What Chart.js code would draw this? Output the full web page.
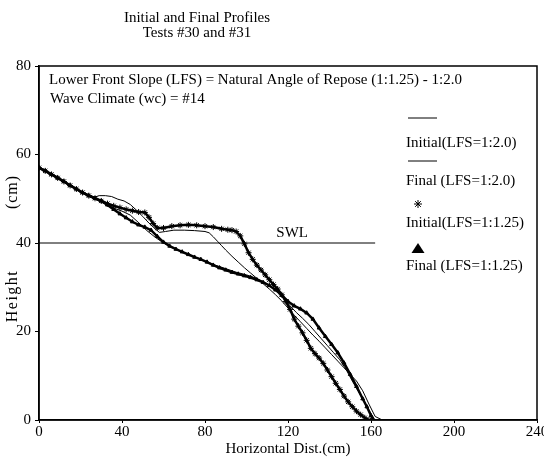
<!DOCTYPE html>
<html><head><meta charset="utf-8">
<script src="https://cdn.jsdelivr.net/npm/chart.js@4/dist/chart.umd.min.js"></script>
<style>html,body{margin:0;padding:0;background:#fff}</style>
</head><body>
<canvas id="c" width="544" height="461" style="width:544px;height:461px;display:block"></canvas>
<script>
// ---- text ----
const titleLines = ["Initial and Final Profiles", "Tests #30 and #31"];
const noteLines = ["Lower Front Slope (LFS) = Natural Angle of Repose (1:1.25) - 1:2.0", "Wave Climate (wc) = #14"];
const xAxisTitle = "Horizontal Dist.(cm)";
const yAxisTitleWords = ["Height", "(cm)"];
const seriesLabels = ["Initial(LFS=1:2.0)", "Final (LFS=1:2.0)", "Initial(LFS=1:1.25)", "Final (LFS=1:1.25)"];
const xTicks = [0, 40, 80, 120, 160, 200, 240];
const yTicks = [0, 20, 40, 60, 80];

// ---- Initial profile, LFS = 1:2.0 (thin line) ----
const init20X = [0,4,8,12,16,20,24,27,29,32,35,38,41,44,47,50,53,56,58,61,65,70,75,80,82,84,86,88,90,93,96,99,102,105,108,111,114,117,120,123,126,129,132,135,138,141,144,147,150,153,156,159,162,165,167];
const init20Y = [57,56,55,53.9,52.8,51.7,50.8,50.4,50.7,50.7,50.5,49.9,49.5,48.7,47.4,46,44.5,43.2,42.4,42.6,42.9,42.9,42.8,42.6,42.3,41.4,40.4,39.4,38.4,37,35.7,34.4,33.2,32,30.8,29.6,28.3,26.9,25.3,23.7,22.2,20.7,19.2,17.8,16.3,14.8,13.3,11.8,10.3,8.8,6.6,3.6,0.8,0.1,0];

// ---- Final profile, LFS = 1:2.0 (thin line) ----
const final20X = [0,4,8,12,16,20,24,28,32,36,40,44,48,52,56,60,65,70,75,80,85,90,95,100,105,110,114,118,121,124,127,130,133,136,139,142,145,148,151,154,157,160,162];
const final20Y = [57,56,55,53.9,52.8,51.7,50.7,49.7,48.8,47.9,47.2,46.3,44.6,42.8,41.3,40,38.8,37.8,36.9,35.9,35,34.2,33.4,32.8,32,30.8,29.4,27.6,25.8,24.3,23,21.6,20,18.4,16.8,15.2,13.6,11.4,8.8,6.4,4,1.4,0];

// ---- Initial profile, LFS = 1:1.25 (asterisks) ----
const init125X = [0,3,6,9,12,15,18,21,24,27,30,33,36,39,42,45,48,51,53,55,57,60,64,68,72,76,80,84,88,91,93,95,97,99,101,103,105,107,109,111,113,115,117,119,121,123,125,127,129,131,133,135,137,139,141,143,145,147,149,151,153,155,157,159];
const init125Y = [57,56.3,55.5,54.7,53.9,53,52.2,51.4,50.7,50.1,49.5,48.9,48.4,48,47.6,47.3,47,46.9,45.8,44.4,43.4,43.4,43.8,44,44.1,44,43.8,43.6,43.2,43,42.9,42.6,41.6,39.8,37.8,36.3,35,33.9,32.8,31.7,30.6,29.6,28.3,26.8,25,22.8,21.2,19.7,18,16.2,15,14,12.8,11.3,9.8,8.3,6.9,5.4,4.1,3,2,1.2,0.5,0];

// ---- Final profile, LFS = 1:1.25 (triangles) ----
const final125X = [0,3,6,9,12,15,18,21,24,27,30,33,36,39,42,45,48,51,54,57,60,63,66,69,72,75,78,81,84,87,90,93,96,99,102,105,108,111,114,117,120,123,126,129,132,135,138,141,144,147,150,153,156,158,160,161];
const final125Y = [57,56.3,55.5,54.7,53.9,53,52.2,51.4,50.7,50.1,49.5,48.6,47.6,46.6,45.7,44.8,44.1,43.6,42.9,41.5,40.2,39.3,38.6,38,37.4,36.8,36.3,35.7,35,34.4,33.9,33.4,33,32.6,32.2,31.7,31.1,30.4,29.4,28.2,26.8,25.8,25.1,24.2,22.8,20.8,18.9,17.1,15.2,12.9,10.3,7.6,4.8,3,1,0];

// ---- Still water level ----
const swlX = [0, 162];
const swlY = [40, 40];
const swlLabel = "SWL";
const swlLabelX = 122;

const pts = (xs, ys) => xs.map((x, i) => ({x, y: ys[i]}));
const FONT = "'Liberation Serif', 'DejaVu Serif', serif";

const decorations = {
  id: 'decorations',
  afterDraw(chart) {
    const ctx = chart.ctx, a = chart.chartArea;
    const xs = chart.scales.x, ys = chart.scales.y;
    ctx.save();
    // frame
    ctx.strokeStyle = '#000'; ctx.lineWidth = 1.5;
    ctx.strokeRect(a.left, a.top, a.right - a.left, a.bottom - a.top);
    ctx.fillStyle = '#000';
    // title
    ctx.textAlign = 'center'; ctx.textBaseline = 'middle';
    ctx.font = "15px " + FONT;
    ctx.fillText(titleLines[0], 197, 18);
    ctx.fillText(titleLines[1], 197, 33);
    // y axis title (rotated)
    ctx.save();
    ctx.font = "16px " + FONT;
    ctx.translate(13, 0);
    ctx.rotate(-Math.PI / 2);
    ctx.letterSpacing = '1.5px';
    ctx.fillText(yAxisTitleWords[0], -296, 0);
    ctx.letterSpacing = '1px';
    ctx.fillText(yAxisTitleWords[1], -192, 0);
    ctx.restore();
    // note text
    ctx.textAlign = 'left';
    ctx.font = "15px " + FONT;
    ctx.fillText(noteLines[0], a.left + 10, a.top + 14);
    ctx.fillText(noteLines[1], a.left + 11, a.top + 33);
    // SWL label
    ctx.textAlign = 'center'; ctx.textBaseline = 'bottom';
    ctx.fillText(swlLabel, xs.getPixelForValue(swlLabelX), ys.getPixelForValue(swlY[0]) - 2);
    // legend
    ctx.textAlign = 'left'; ctx.textBaseline = 'middle';
    const lx = 406;
    const rows = [118, 143, 161, 181, 204, 223, 249, 266];
    ctx.lineWidth = 1;
    ctx.beginPath(); ctx.moveTo(lx + 2, rows[0]); ctx.lineTo(lx + 31, rows[0]); ctx.stroke();
    ctx.fillText(seriesLabels[0], lx, rows[1]);
    ctx.beginPath(); ctx.moveTo(lx + 2, rows[2]); ctx.lineTo(lx + 31, rows[2]); ctx.stroke();
    ctx.fillText(seriesLabels[1], lx, rows[3]);
    // star marker
    const sx = lx + 12, sy = rows[4], r = 4;
    ctx.beginPath();
    for (let k = 0; k < 4; k++) {
      const ang = k * Math.PI / 4;
      ctx.moveTo(sx - r * Math.cos(ang), sy - r * Math.sin(ang));
      ctx.lineTo(sx + r * Math.cos(ang), sy + r * Math.sin(ang));
    }
    ctx.stroke();
    ctx.fillText(seriesLabels[2], lx, rows[5]);
    // triangle marker
    const tx = lx + 12, ty = rows[6];
    ctx.beginPath(); ctx.moveTo(tx, ty - 6); ctx.lineTo(tx + 6.5, ty + 4); ctx.lineTo(tx - 6.5, ty + 4); ctx.closePath(); ctx.fill();
    ctx.fillText(seriesLabels[3], lx, rows[7]);
    ctx.restore();
  }
};

new Chart(document.getElementById('c'), {
  type: 'scatter',
  data: {
    datasets: [
      {label: seriesLabels[0], data: pts(init20X, init20Y), showLine: true, borderColor: '#000', borderWidth: 1, pointRadius: 0},
      {label: seriesLabels[1], data: pts(final20X, final20Y), showLine: true, borderColor: '#000', borderWidth: 1, pointRadius: 0},
      {label: seriesLabels[2], data: pts(init125X, init125Y), showLine: true, borderColor: '#000', borderWidth: 2.5,
        pointStyle: 'star', pointRadius: 3, pointBorderWidth: 1, pointBorderColor: '#000', pointBackgroundColor: '#000'},
      {label: seriesLabels[3], data: pts(final125X, final125Y), showLine: true, borderColor: '#000', borderWidth: 2.5,
        pointStyle: 'triangle', pointRadius: 2.2, pointBorderWidth: 1, pointBorderColor: '#000', pointBackgroundColor: '#000'},
      {label: swlLabel, data: pts(swlX, swlY), showLine: true, borderColor: '#000', borderWidth: 1, pointRadius: 0}
    ]
  },
  options: {
    responsive: false,
    animation: false,
    devicePixelRatio: 1,
    layout: {padding: {top: 66, right: 7, left: 0, bottom: 0}},
    plugins: {legend: {display: false}, tooltip: {enabled: false}, title: {display: false}},
    scales: {
      x: {
        type: 'linear', min: 0, max: 240,
        afterBuildTicks: s => { s.ticks = xTicks.map(v => ({value: v})); },
        afterFit: s => { s.height = 41; s.paddingLeft = 0; s.paddingRight = 0; },
        grid: {display: true, drawOnChartArea: false, drawTicks: true, tickLength: 3, color: '#000'},
        border: {display: true, color: '#000', width: 1.5},
        ticks: {color: '#000', padding: 0, maxRotation: 0, font: {family: FONT, size: 15}},
        title: {display: true, text: xAxisTitle, color: '#000', font: {family: FONT, size: 15}, padding: {top: 0, bottom: 3}}
      },
      y: {
        type: 'linear', min: 0, max: 80,
        afterBuildTicks: s => { s.ticks = yTicks.map(v => ({value: v})); },
        afterFit: s => { s.width = 39; },
        grid: {display: true, drawOnChartArea: false, drawTicks: true, tickLength: 4, color: '#000'},
        border: {display: true, color: '#000', width: 1.5},
        ticks: {color: '#000', padding: 4, font: {family: FONT, size: 15}}
      }
    }
  },
  plugins: [decorations]
});
</script>
</body></html>
